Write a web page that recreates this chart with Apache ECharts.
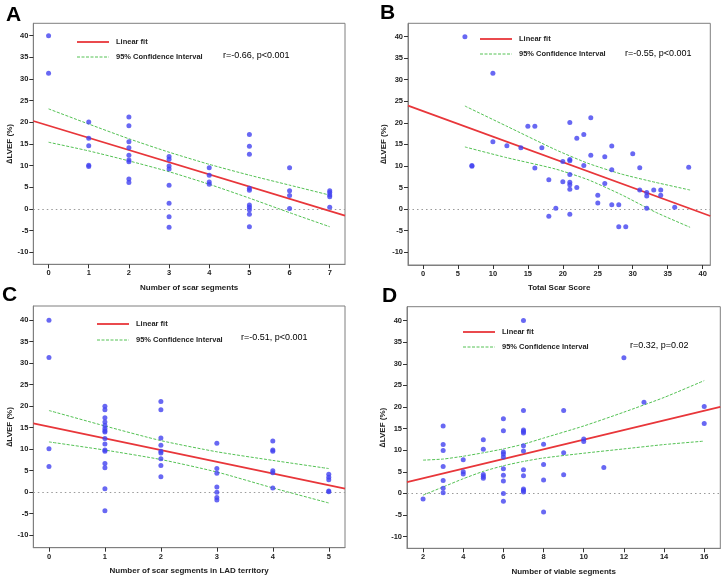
<!DOCTYPE html>
<html><head><meta charset="utf-8">
<script src="https://cdn.jsdelivr.net/npm/echarts@6/dist/echarts.min.js"></script>
<style>html,body{margin:0;padding:0;background:#fff}#c{width:724px;height:582px}</style>
</head><body><div id="c"></div><script>
// ---------- tick labels ----------
const yTicks = [-10,-5,0,5,10,15,20,25,30,35,40];
const xTicksA = [0,1,2,3,4,5,6,7];
const xTicksB = [0,5,10,15,20,25,30,35,40];
const xTicksC = [0,1,2,3,4,5];
const xTicksD = [2,4,6,8,10,12,14,16];

// ---------- axis titles / annotations ----------
const panelLetters = ['A','B','C','D'];
const xTitles = ['Number of scar segments','Total Scar Score','Number of scar segments in LAD territory','Number of viable segments'];
const yTitle = '\u2206LVEF (%)';
const statTexts = ['r=-0.66, p<0.001','r=-0.55, p<0.001','r=-0.51, p<0.001','r=0.32, p=0.02'];
const legendNames = ['Linear fit','95% Confidence Interval'];

// ---------- data: [x, ΔLVEF] ----------
const ptsA = [[0,40],[0,31.3],
 [1,20.1],[1,16.3],[1,14.6],[1,10.1],[1,9.8],
 [2,21.2],[2,19.2],[2,15.5],[2,14.1],[2,12.4],[2,11.3],[2,10.9],[2,6.9],[2,6.1],
 [3,12.1],[3,11.5],[3,9.9],[3,9.2],[3,5.5],[3,1.3],[3,-1.8],[3,-4.2],
 [4,9.5],[4,7.8],[4,6.2],[4,5.7],
 [5,17.2],[5,14.5],[5,12.6],[5,4.8],[5,4.3],[5,0.9],[5,0.4],[5,-0.2],[5,-1.2],[5,-4.1],
 [6,9.5],[6,4.2],[6,3.1],[6,0.1],
 [7,4.2],[7,3.8],[7,3.2],[7,2.8],[7,0.4]];
const ptsB = [[6,40],[10,31.5],[7,10.1],[7,9.9],[10,15.6],[12,14.7],[14,14.2],[15,19.2],[16,19.2],[16,9.5],
 [17,14.2],[18,6.8],[18,-1.7],[19,0.2],[20,11],[20,6.3],[21,20.1],[21,11.5],[21,11.2],[21,8.0],
 [21,6.2],[21,5.6],[21,4.6],[21,-1.2],[22,16.4],[22,5.0],[23,17.3],[23,10.1],[24,21.2],[24,12.5],
 [25,3.2],[25,1.4],[26,12.1],[26,5.9],[27,14.6],[27,9.1],[27,1.0],[28,1.0],[28,-4.1],[29,-4.1],
 [30,12.8],[31,9.6],[31,4.4],[32,3.8],[32,3.0],[32,0.15],[33,4.4],[34,4.4],[34,3.2],[36,0.4],[38,9.7]];
const ptsC = [[0,40],[0,31.3],[0,10.1],[0,6.0],
 [1,20.0],[1,19.2],[1,17.3],[1,16.3],[1,15.5],[1,14.8],[1,14.3],[1,14.0],[1,12.5],[1,11.2],[1,9.8],[1,9.5],[1,6.7],[1,5.7],[1,0.8],[1,-4.3],
 [2,21.1],[2,19.2],[2,12.6],[2,10.9],[2,9.5],[2,9.1],[2,7.8],[2,6.2],[2,3.6],
 [3,11.4],[3,5.5],[3,4.4],[3,1.2],[3,0.0],[3,-1.2],[3,-1.8],
 [4,11.9],[4,9.8],[4,9.5],[4,5.0],[4,4.5],[4,1.0],
 [5,4.2],[5,3.5],[5,2.9],[5,0.3],[5,0.1]];
const ptsD = [[2,-1.3],
 [3,15.6],[3,11.3],[3,9.9],[3,6.2],[3,3.0],[3,1.2],[3,0.15],
 [4,7.8],[4,5.0],[4,4.5],
 [5,12.4],[5,10.2],[5,4.4],[5,3.9],[5,3.5],
 [6,17.3],[6,14.5],[6,9.6],[6,9.1],[6,8.4],[6,5.7],[6,4.2],[6,2.9],[6,0],[6,-1.8],
 [7,40],[7,19.2],[7,14.7],[7,14.3],[7,14.0],[7,11.0],[7,9.8],[7,5.5],[7,4.1],[7,1.0],[7,0.7],[7,0.3],
 [8,11.4],[8,6.7],[8,3.1],[8,-4.3],
 [9,19.2],[9,9.4],[9,4.3],
 [10,12.6],[10,12.0],[11,6.0],[12,31.4],[13,21.1],[16,20.1],[16,16.2]];

// ---------- fit lines and CI curves ----------
const fitA = [[-0.38,20.3],[7.38,-1.54]];
const ciUpA = [[0,23.1],[1,19.6],[2,16.2],[3,13.1],[4,10.3],[5,7.8],[6,5.5],[7,3.2]];
const ciLoA = [[0,15.4],[1,13.4],[2,11.1],[3,8.6],[4,5.7],[5,2.5],[6,-0.85],[7,-4.1]];
const fitB = [[-2.14,23.97],[41.09,-1.63]];
const ciUpB = [[6,23.9],[12,19.2],[18.9,13.8],[23.6,10.6],[28.4,8.1],[33.2,6.2],[38.2,4.4]];
const ciLoB = [[6,14.4],[12,11.9],[18.9,9.3],[23.6,6.8],[28.4,3.3],[33.2,-0.7],[38.2,-4.25]];
const fitC = [[-0.28,16.0],[5.29,0.85]];
const ciUpC = [[0,19.0],[1,15.4],[2,12.0],[3,9.4],[4,7.4],[5,5.5]];
const ciLoC = [[0,11.7],[1,9.8],[2,7.6],[3,4.7],[4,1.0],[5,-2.5]];
const fitD = [[1.2,2.6],[16.8,20.0]];
const ciUpD = [[2,7.7],[3,7.95],[4,8.6],[5,9.4],[6,10.3],[7,11.4],[8,12.8],[10,15.6],[12,18.8],[14,22.2],[16,26.1]];
const ciLoD = [[2,-0.4],[3,1.5],[4,3.4],[5,5.1],[6,6.4],[7,7.4],[8,8.2],[10,9.3],[12,10.3],[14,11.3],[16,12.1]];

// ---------- layout (styling) ----------
const FONT = 'Arial, "Liberation Sans", sans-serif';
const grids = [
  {left:33.3, top:23.3, width:311.7, height:241},
  {left:408,  top:23.3, width:302.3, height:241.7},
  {left:33.3, top:306,  width:311.7, height:241.7},
  {left:407,  top:306.7,width:313.3, height:241.6}
];
const xRanges = [[-0.38,7.38],[-2.14,41.09],[-0.28,5.29],[1.2,16.8]];
const yRanges = [[-12.77,42.85],[-13.0,43.1],[-12.9,43.3],[-12.7,43.2]];
const xTicks = [xTicksA,xTicksB,xTicksC,xTicksD];
const pts = [ptsA,ptsB,ptsC,ptsD];
const fits = [fitA,fitB,fitC,fitD];
const ups = [ciUpA,ciUpB,ciUpC,ciUpD];
const los = [ciLoA,ciLoB,ciLoC,ciLoD];

const BORDER = '#7f7f7f';
const RED = '#e8363a';
const GREEN = '#54c254';
const BLUE = '#4242f0';

const option = {
  animation:false,
  backgroundColor:'#fff',
  grid: grids.map(g => Object.assign({show:true, borderColor:BORDER, borderWidth:1, backgroundColor:'#fff', containLabel:false, outerBoundsMode:'none'}, g)),
  xAxis: grids.map((g,i) => ({
    type:'value', gridIndex:i, min:xRanges[i][0], max:xRanges[i][1],
    axisLine:{show:true, onZero:false, lineStyle:{color:BORDER, width:1}},
    axisTick:{show:true, customValues:xTicks[i], length:4, lineStyle:{color:'#333'}},
    axisLabel:{customValues:xTicks[i], fontSize:7.5, fontWeight:'bold', color:'#222', fontFamily:FONT, margin:5},
    splitLine:{show:false},
    name:xTitles[i], nameLocation:'middle', nameGap:19,
    nameTextStyle:{fontSize:8, fontWeight:'bold', color:'#222', fontFamily:FONT}
  })),
  yAxis: grids.map((g,i) => ({
    type:'value', gridIndex:i, min:yRanges[i][0], max:yRanges[i][1],
    axisLine:{show:true, onZero:false, lineStyle:{color:BORDER, width:1}},
    axisTick:{show:true, customValues:yTicks, length:4, lineStyle:{color:'#333'}},
    axisLabel:{customValues:yTicks, fontSize:7.5, fontWeight:'bold', color:'#222', fontFamily:FONT, margin:5},
    splitLine:{show:false},
    name:yTitle, nameLocation:'middle', nameGap:18, nameRotate:90,
    nameTextStyle:{fontSize:8, fontWeight:'bold', color:'#222', fontFamily:FONT}
  })),
  series: [],
  graphic: []
};

for (let i=0;i<4;i++){
  option.series.push({
    type:'line', xAxisIndex:i, yAxisIndex:i, data:ups[i], smooth:0.2, symbol:'none',
    lineStyle:{color:GREEN, width:1, type:[3,1.5]}, z:3, silent:true
  });
  option.series.push({
    type:'line', xAxisIndex:i, yAxisIndex:i, data:los[i], smooth:0.2, symbol:'none',
    lineStyle:{color:GREEN, width:1, type:[3,1.5]}, z:3, silent:true
  });
  option.series.push({
    type:'line', xAxisIndex:i, yAxisIndex:i, data:fits[i], symbol:'none',
    lineStyle:{color:RED, width:1.8}, z:4, silent:true
  });
  option.series.push({
    type:'scatter', xAxisIndex:i, yAxisIndex:i, data:pts[i], symbol:'circle', symbolSize:5,
    itemStyle:{color:BLUE}, z:5, silent:true,
    markLine:{silent:true, symbol:'none', label:{show:false}, z:2,
      lineStyle:{color:'#9a9a9a', width:1.2, type:[1.5,3]}, data:[{yAxis:0}]}
  });
}

// panel letters, legends, r/p annotations
const letterPos = [[6,5],[380,3],[2,285],[382,286]];
const legPos = [[77,42,57],[480,39,54],[97,324,340],[463,332,347]];
const statPos = [[223,56],[625,54],[241,338],[630,346]];
for (let i=0;i<4;i++){
  option.graphic.push({type:'text', left:letterPos[i][0], top:letterPos[i][1],
    style:{text:panelLetters[i], font:'bold 21px '+FONT, fill:'#000'}});
  const [lx, ry, gy] = legPos[i];
  option.graphic.push({type:'line', shape:{x1:lx, y1:ry, x2:lx+32, y2:ry}, style:{stroke:RED, lineWidth:1.8}});
  option.graphic.push({type:'line', shape:{x1:lx, y1:gy, x2:lx+32, y2:gy}, style:{stroke:GREEN, lineWidth:1, lineDash:[3,1.5]}});
  option.graphic.push({type:'text', x:lx+39, y:ry, style:{text:legendNames[0], font:'bold 7.5px '+FONT, fill:'#222', verticalAlign:'middle'}});
  option.graphic.push({type:'text', x:lx+39, y:gy, style:{text:legendNames[1], font:'bold 7.5px '+FONT, fill:'#222', verticalAlign:'middle'}});
  option.graphic.push({type:'text', x:statPos[i][0], y:statPos[i][1], style:{text:statTexts[i], font:'9px '+FONT, fill:'#000', verticalAlign:'middle'}});
}

const chart = echarts.init(document.getElementById('c'), null, {renderer:'canvas'});
chart.setOption(option);
</script></body></html>
